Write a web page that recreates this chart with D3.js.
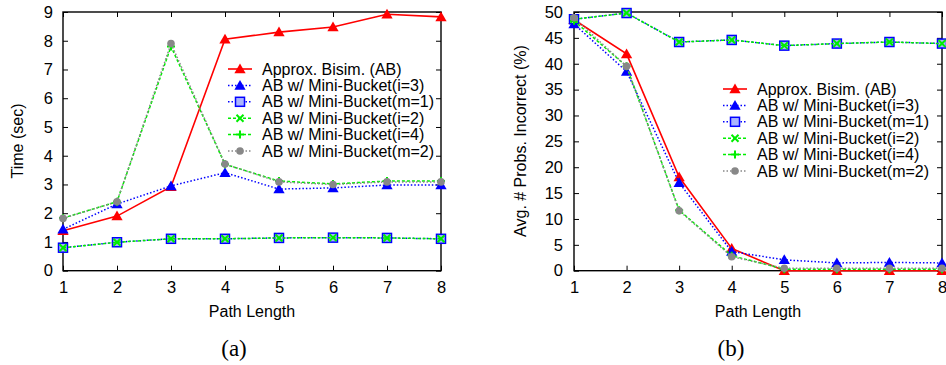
<!DOCTYPE html>
<html><head><meta charset="utf-8">
<script src="https://cdn.jsdelivr.net/npm/d3@7"></script>
<style>body{margin:0;background:#fff}svg{display:block}text{font-family:"Liberation Sans",Arial,sans-serif}</style>
</head><body><svg id="c" width="946" height="365"></svg>
<script>
const pathLengths = [1,2,3,4,5,6,7,8];
const seriesNames = ["Approx. Bisim. (AB)","AB w/ Mini-Bucket(i=3)","AB w/ Mini-Bucket(m=1)","AB w/ Mini-Bucket(i=2)","AB w/ Mini-Bucket(i=4)","AB w/ Mini-Bucket(m=2)"];
// (a) Time (sec)
const timeAB   = [1.39,1.90,2.92,8.05,8.30,8.48,8.92,8.83];
const timeI3   = [1.44,2.32,2.95,3.41,2.84,2.88,2.98,2.98];
const timeM1   = [0.80,0.99,1.11,1.11,1.14,1.15,1.14,1.11];
const timeI2   = [0.80,0.99,1.11,1.11,1.14,1.15,1.14,1.11];
const timeI4   = [1.83,2.40,7.80,3.70,3.12,3.02,3.12,3.12];
const timeM2   = [1.82,2.40,7.90,3.71,3.09,3.00,3.09,3.09];
// (b) Avg. # Probs. Incorrect (%)
const incAB    = [48.5,41.9,18.1,4.3,0.0,0.0,0.0,0.0];
const incI3    = [47.7,38.5,17.0,3.7,2.1,1.5,1.6,1.5];
const incM1    = [48.6,49.8,44.2,44.6,43.5,43.9,44.2,43.9];
const incI2    = [48.6,49.8,44.2,44.6,43.5,43.9,44.2,43.9];
const incI4    = [48.3,39.5,11.7,2.9,0.3,0.3,0.3,0.3];
const incM2    = [48.9,39.5,11.6,2.7,0.45,0.45,0.45,0.45];
const timeTicks = [0,1,2,3,4,5,6,7,8,9];
const incTicks = [0,5,10,15,20,25,30,35,40,45,50];

const styles = [
  {color:"#ff0000", dash:null, width:1.6, marker:"tri"},
  {color:"#0000ff", dash:"1.5,2", width:1.5, marker:"tri"},
  {color:"#0000ff", dash:"1.5,2", width:1.5, marker:"sq"},
  {color:"#00ee00", dash:"3,2", width:1.5, marker:"x"},
  {color:"#00ee00", dash:"3,2", width:1.5, marker:"plus"},
  {color:"#888888", dash:"1.5,2", width:1.5, marker:"circ"}
];

const svg = d3.select("#c");
svg.append("rect").attr("width",946).attr("height",365).attr("fill","#fff");

function marker(g, type, color, x, y){
  if(type==="tri"){
    g.append("path").attr("d",d3.symbol(d3.symbolTriangle,55)()).attr("transform",`translate(${x},${y+1})`).attr("fill",color);
  } else if(type==="sq"){
    g.append("rect").attr("x",x-4.5).attr("y",y-4.5).attr("width",9).attr("height",9).attr("fill","#aab4ff").attr("stroke",color).attr("stroke-width",1.5);
  } else if(type==="x"){
    g.append("path").attr("d",`M${x-3.5},${y-3.5}L${x+3.5},${y+3.5}M${x-3.5},${y+3.5}L${x+3.5},${y-3.5}`).attr("stroke",color).attr("stroke-width",2);
  } else if(type==="plus"){
    g.append("path").attr("d",`M${x-4},${y}L${x+4},${y}M${x},${y-4}L${x},${y+4}`).attr("stroke",color).attr("stroke-width",2);
  } else if(type==="circ"){
    g.append("circle").attr("cx",x).attr("cy",y).attr("r",3.8).attr("fill",color);
  }
}

function chart(opt){
  const x = d3.scaleLinear().domain([1,8]).range([opt.x0,opt.x1]);
  const y = d3.scaleLinear().domain([0,opt.ymax]).range([270.7,12]);
  const g = svg.append("g");
  const xa = d3.axisBottom(x).tickValues(pathLengths).tickSize(-5).tickPadding(11).tickFormat(d3.format("d"));
  const ya = d3.axisLeft(y).tickValues(opt.ticks).tickSize(-5).tickPadding(opt.ypad).tickFormat(d3.format("d"));
  const gx = g.append("g").attr("transform","translate(0,270.7)").call(xa);
  const gy = g.append("g").attr("transform",`translate(${opt.x0},0)`).call(ya);
  const gx2 = g.append("g").attr("transform","translate(0,12)").call(d3.axisTop(x).tickValues(pathLengths).tickSize(-5).tickFormat(""));
  const gy2 = g.append("g").attr("transform",`translate(${opt.x1},0)`).call(d3.axisRight(y).tickValues(opt.ticks).tickSize(-5).tickFormat(""));
  [gx,gy,gx2,gy2].forEach(a=>{
    a.select(".domain").remove();
    a.selectAll("line").attr("stroke","#000").attr("stroke-width",1);
    a.selectAll("text").attr("font-size",16.5).attr("fill","#000").attr("font-family","Liberation Sans, Arial, sans-serif");
  });
  g.append("rect").attr("x",opt.x0).attr("y",12).attr("width",opt.x1-opt.x0).attr("height",258.7).attr("fill","none").attr("stroke","#000").attr("stroke-width",1.4);
  // titles
  g.append("text").attr("x",(opt.x0+opt.x1)/2).attr("y",317).attr("text-anchor","middle").attr("font-size",16).text("Path Length");
  g.append("text").attr("transform",`translate(${opt.ytx},141) rotate(-90)`).attr("text-anchor","middle").attr("font-size",16).text(opt.ytitle);
  g.append("text").attr("x",opt.labx).attr("y",356).attr("text-anchor","middle").attr("font-size",23).style("font-family","'Liberation Serif', 'DejaVu Serif', serif").text(opt.label);
  // series
  const line = d3.line().x((d,i)=>x(pathLengths[i])).y(d=>y(d));
  opt.data.forEach((vals,k)=>{
    const s = styles[k];
    const sg = g.append("g");
    sg.append("path").attr("d",line(vals)).attr("fill","none").attr("stroke",s.color).attr("stroke-width",s.width).attr("stroke-dasharray",s.dash);
    vals.forEach((v,i)=>marker(sg,s.marker,s.color,x(pathLengths[i]),y(v)));
  });
  // legend
  const lg = g.append("g");
  seriesNames.forEach((name,k)=>{
    const s = styles[k];
    const yy = opt.ly + k*16.4;
    lg.append("path").attr("d",`M${opt.lx},${yy}L${opt.lx+24},${yy}`).attr("stroke",s.color).attr("stroke-width",s.width).attr("stroke-dasharray",s.dash);
    marker(lg,s.marker,s.color,opt.lx+12,yy);
    lg.append("text").attr("x",opt.lx+34).attr("y",yy+5.5).attr("font-size",16).text(name);
  });
}

chart({x0:63,x1:441,ymax:9,ticks:timeTicks,ypad:10,ytitle:"Time (sec)",ytx:23,label:"(a)",labx:234,lx:228,ly:69,
  data:[timeAB,timeI3,timeM1,timeI2,timeI4,timeM2]});
chart({x0:574,x1:942,ymax:50,ticks:incTicks,ypad:11,ytitle:"Avg. # Probs. Incorrect (%)",ytx:526,label:"(b)",labx:731,lx:723,ly:89,
  data:[incAB,incI3,incM1,incI2,incI4,incM2]});
</script></body></html>
